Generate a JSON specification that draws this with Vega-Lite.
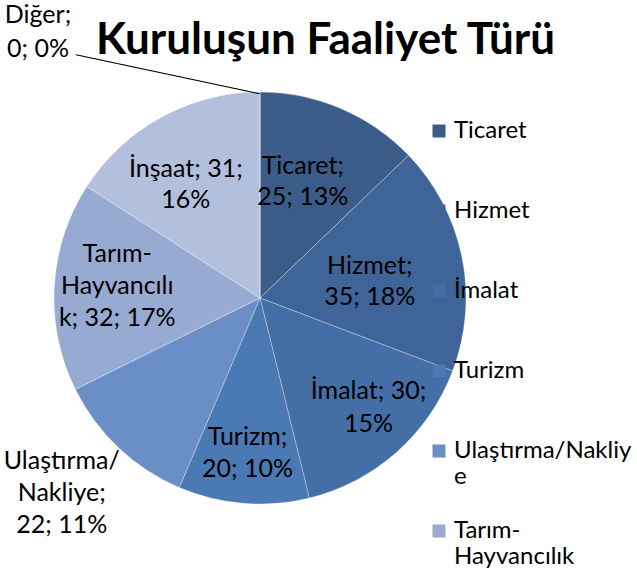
{
  "$schema": "https://vega.github.io/schema/vega-lite/v6.json",
  "width": 520,
  "height": 412,
  "autosize": "none",
  "padding": {"left": 0, "top": 92, "right": 117, "bottom": 78},
  "background": "white",
  "config": {"view": {"stroke": null}, "font": "Lato"},
  "title": {
    "text": "Kuruluşun Faaliyet Türü",
    "anchor": "start",
    "frame": "group",
    "dx": 96,
    "dy": 92,
    "offset": 0,
    "font": "Lato",
    "fontSize": 44,
    "fontWeight": "bold",
    "color": "#000000"
  },
  "data": {
    "values": [
      {"idx": 1, "category": "Ticaret", "value": 25, "label": "Ticaret;\n25; 13%"},
      {"idx": 2, "category": "Hizmet", "value": 35, "label": "Hizmet;\n35; 18%"},
      {"idx": 3, "category": "İmalat", "value": 30, "label": "İmalat; 30;\n15%"},
      {"idx": 4, "category": "Turizm", "value": 20, "label": "Turizm;\n20; 10%"},
      {"idx": 5, "category": "Ulaştırma/Nakliye", "value": 22, "label": "Ulaştırma/\nNakliye;\n22; 11%"},
      {"idx": 6, "category": "Tarım-Hayvancılık", "value": 32, "label": "Tarım-\nHayvancılı\nk; 32; 17%"},
      {"idx": 7, "category": "İnşaat", "value": 31, "label": "İnşaat; 31;\n16%"},
      {"idx": 8, "category": "Diğer", "value": 0, "label": "Diğer;\n0; 0%"}
    ]
  },
  "layer": [
    {
      "mark": {"type": "arc", "outerRadius": 206, "stroke": "#ffffff", "strokeOpacity": 0.3, "strokeWidth": 1},
      "encoding": {
        "theta": {"field": "value", "type": "quantitative", "stack": true},
        "order": {"field": "idx", "type": "quantitative"},
        "color": {
          "field": "category",
          "type": "nominal",
          "scale": {
            "domain": ["Ticaret", "Hizmet", "İmalat", "Turizm", "Ulaştırma/Nakliye", "Tarım-Hayvancılık", "İnşaat", "Diğer"],
            "range": ["#3B5B89", "#3F6497", "#446FA6", "#4A79B4", "#6A8FC7", "#97ABD2", "#B2C0DD", "#CAD4E9"]
          },
          "legend": {
            "title": null,
            "orient": "none",
            "legendX": 427,
            "legendY": 27,
            "padding": 0,
            "symbolType": "square",
            "symbolSize": 169,
            "symbolStrokeWidth": 0,
            "labelFont": "Lato",
            "labelFontSize": 24,
            "labelColor": "#000000",
            "labelOffset": 3,
            "labelLimit": 300,
            "labelBaseline": "middle",
            "gridAlign": "all",
            "rowPadding": 30,
            "labelExpr": "datum.label == 'Ulaştırma/Nakliye' ? ['Ulaştırma/Nakliy', 'e'] : datum.label == 'Tarım-Hayvancılık' ? ['Tarım-', 'Hayvancılık'] : datum.label",
            "encode": {"labels": {"enter": {"lineHeight": {"value": 33}}, "update": {"lineHeight": {"value": 33}}}}
          }
        }
      }
    },
    {
      "mark": {"type": "text", "radius": 127, "dx": -7, "dy": -15, "font": "Lato", "fontSize": 25, "lineBreak": "\n", "lineHeight": 31, "color": "#000000", "align": "center", "baseline": "middle"},
      "encoding": {
        "theta": {"field": "value", "type": "quantitative", "stack": true},
        "order": {"field": "idx", "type": "quantitative"},
        "text": {"condition": {"test": "datum.category == 'Ticaret'", "field": "label"}, "value": ""}
      }
    },
    {
      "mark": {"type": "text", "radius": 111, "dx": 1, "dy": -10, "font": "Lato", "fontSize": 25, "lineBreak": "\n", "lineHeight": 31, "color": "#000000", "align": "center", "baseline": "middle"},
      "encoding": {
        "theta": {"field": "value", "type": "quantitative", "stack": true},
        "order": {"field": "idx", "type": "quantitative"},
        "text": {"condition": {"test": "datum.category == 'Hizmet'", "field": "label"}, "value": ""}
      }
    },
    {
      "mark": {"type": "text", "radius": 150, "dx": 9, "dy": -19, "font": "Lato", "fontSize": 25, "lineBreak": "\n", "lineHeight": 33, "color": "#000000", "align": "center", "baseline": "middle"},
      "encoding": {
        "theta": {"field": "value", "type": "quantitative", "stack": true},
        "order": {"field": "idx", "type": "quantitative"},
        "text": {"condition": {"test": "datum.category == 'İmalat'", "field": "label"}, "value": ""}
      }
    },
    {
      "mark": {"type": "text", "radius": 155, "dy": -15, "font": "Lato", "fontSize": 25, "lineBreak": "\n", "lineHeight": 32, "color": "#000000", "align": "center", "baseline": "middle"},
      "encoding": {
        "theta": {"field": "value", "type": "quantitative", "stack": true},
        "order": {"field": "idx", "type": "quantitative"},
        "text": {"condition": {"test": "datum.category == 'Turizm'", "field": "label"}, "value": ""}
      }
    },
    {
      "mark": {"type": "text", "radius": 277, "dx": -8, "dy": -38, "font": "Lato", "fontSize": 25, "lineBreak": "\n", "lineHeight": 32, "color": "#000000", "align": "center", "baseline": "middle"},
      "encoding": {
        "theta": {"field": "value", "type": "quantitative", "stack": true},
        "order": {"field": "idx", "type": "quantitative"},
        "text": {"condition": {"test": "datum.category == 'Ulaştırma/Nakliye'", "field": "label"}, "value": ""}
      }
    },
    {
      "mark": {"type": "text", "radius": 143, "dy": -36, "font": "Lato", "fontSize": 25, "lineBreak": "\n", "lineHeight": 32, "color": "#000000", "align": "center", "baseline": "middle"},
      "encoding": {
        "theta": {"field": "value", "type": "quantitative", "stack": true},
        "order": {"field": "idx", "type": "quantitative"},
        "text": {"condition": {"test": "datum.category == 'Tarım-Hayvancılık'", "field": "label"}, "value": ""}
      }
    },
    {
      "mark": {"type": "text", "radius": 136, "dx": -9, "dy": -10, "font": "Lato", "fontSize": 25, "lineBreak": "\n", "lineHeight": 31, "color": "#000000", "align": "center", "baseline": "middle"},
      "encoding": {
        "theta": {"field": "value", "type": "quantitative", "stack": true},
        "order": {"field": "idx", "type": "quantitative"},
        "text": {"condition": {"test": "datum.category == 'İnşaat'", "field": "label"}, "value": ""}
      }
    },
    {
      "mark": {"type": "text", "radius": 206, "dx": -222, "dy": -77, "font": "Lato", "fontSize": 25, "lineBreak": "\n", "lineHeight": 34, "color": "#000000", "align": "center", "baseline": "middle"},
      "encoding": {
        "theta": {"field": "value", "type": "quantitative", "stack": true},
        "order": {"field": "idx", "type": "quantitative"},
        "text": {"condition": {"test": "datum.category == 'Diğer'", "field": "label"}, "value": ""}
      }
    },
    {
      "mark": {"type": "text", "radius": 206, "angle": 12, "dy": 2, "font": "DejaVu Sans", "fontSize": 12, "color": "#000000", "align": "right", "baseline": "middle"},
      "encoding": {
        "theta": {"field": "value", "type": "quantitative", "stack": true},
        "order": {"field": "idx", "type": "quantitative"},
        "text": {"condition": {"test": "datum.category == 'Diğer'", "value": "──────────────────────────"}, "value": ""}
      }
    }
  ]
}
